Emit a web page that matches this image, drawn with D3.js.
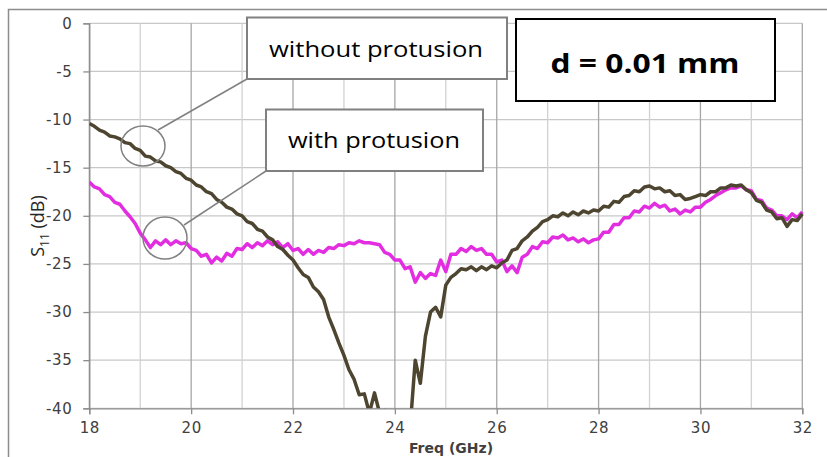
<!DOCTYPE html>
<html><head><meta charset="utf-8">
<script src="https://cdn.jsdelivr.net/npm/d3@7"></script>
<style>
html,body{margin:0;padding:0;background:#fff;}
svg{display:block;}
</style></head>
<body>
<svg id="chart" width="827" height="457"></svg>
<script>
const freq = [18.0,18.1,18.2,18.3,18.4,18.5,18.6,18.7,18.8,18.9,19.0,19.1,19.2,19.3,19.4,19.5,19.6,19.7,19.8,19.9,
20.0,20.1,20.2,20.3,20.4,20.5,20.6,20.7,20.8,20.9,21.0,21.1,21.2,21.3,21.4,21.5,21.6,21.7,21.8,21.9,
22.0,22.1,22.2,22.3,22.4,22.5,22.6,22.7,22.8,22.9,23.0,23.1,23.2,23.3,23.4,23.5,23.6,23.7,23.8,23.9,
24.0,24.1,24.2,24.3,24.4,24.5,24.6,24.7,24.8,24.9,25.0,25.1,25.2,25.3,25.4,25.5,25.6,25.7,25.8,25.9,
26.0,26.1,26.2,26.3,26.4,26.5,26.6,26.7,26.8,26.9,27.0,27.1,27.2,27.3,27.4,27.5,27.6,27.7,27.8,27.9,
28.0,28.1,28.2,28.3,28.4,28.5,28.6,28.7,28.8,28.9,29.0,29.1,29.2,29.3,29.4,29.5,29.6,29.7,29.8,29.9,
30.0,30.1,30.2,30.3,30.4,30.5,30.6,30.7,30.8,30.9,31.0,31.1,31.2,31.3,31.4,31.5,31.6,31.7,31.8,31.9,32.0];

const withoutProtusion = [-10.4,-10.7,-11.1,-11.3,-11.7,-11.8,-12.0,-12.4,-12.5,-13.0,-13.2,-13.8,-13.9,-14.3,-14.4,-14.8,-15.0,-15.4,-15.6,-16.1,
-16.3,-16.8,-17.0,-17.5,-17.7,-18.3,-18.6,-19.1,-19.3,-19.8,-20.0,-20.6,-20.8,-21.4,-21.6,-22.2,-22.5,-23.2,-23.5,-24.1,
-24.6,-25.4,-26.1,-26.4,-27.4,-27.9,-28.7,-30.5,-31.8,-33.2,-34.5,-36.0,-37.0,-38.6,-38.5,-40.5,-38.4,-40.5,-40.2,-42.0,
-43.0,-44.0,-44.0,-42.0,-35.0,-37.4,-32.5,-30.0,-29.5,-30.5,-27.2,-26.4,-26.0,-25.5,-25.6,-25.3,-25.7,-25.3,-25.6,-25.2,
-25.4,-24.9,-24.6,-23.6,-23.4,-22.6,-22.2,-21.6,-21.2,-20.6,-20.4,-20.0,-20.1,-19.7,-20.0,-19.6,-19.9,-19.5,-19.7,-19.4,
-19.5,-19.0,-19.1,-18.5,-18.6,-18.0,-17.9,-17.4,-17.5,-17.0,-16.9,-17.2,-17.1,-17.5,-17.4,-17.9,-17.8,-18.3,-18.2,-18.0,
-17.8,-17.9,-17.5,-17.5,-17.1,-17.1,-16.8,-16.9,-16.8,-17.3,-17.6,-18.4,-18.6,-19.4,-19.6,-20.3,-20.2,-21.1,-20.4,-20.5,-19.8];

const withProtusion = [-16.5,-17.0,-17.2,-17.8,-18.0,-18.6,-18.8,-19.5,-20.1,-20.8,-21.8,-22.5,-23.3,-22.6,-23.0,-22.5,-23.0,-22.6,-22.9,-22.8,
-23.4,-23.6,-24.2,-24.0,-24.9,-24.3,-24.7,-23.9,-24.2,-23.4,-23.5,-22.9,-23.3,-22.8,-23.1,-22.6,-23.0,-22.7,-23.3,-22.9,
-23.6,-23.4,-24.0,-23.5,-24.0,-23.6,-23.8,-23.3,-23.4,-23.0,-23.1,-22.8,-22.9,-22.6,-22.8,-22.8,-22.9,-23.0,-23.8,-24.0,
-24.6,-24.6,-25.5,-25.3,-26.9,-25.9,-26.5,-26.0,-26.2,-24.6,-25.8,-24.0,-24.0,-23.4,-23.7,-23.2,-23.6,-23.4,-24.0,-24.0,
-24.8,-24.6,-25.8,-25.2,-25.9,-24.3,-24.0,-23.2,-23.4,-22.7,-22.8,-22.2,-22.3,-22.0,-22.5,-22.3,-22.7,-22.4,-22.8,-22.5,
-22.4,-21.7,-21.7,-20.9,-20.9,-20.2,-20.2,-19.5,-19.6,-19.0,-19.2,-18.7,-19.1,-18.9,-19.5,-19.3,-19.8,-19.4,-19.6,-19.1,
-19.1,-18.6,-18.3,-17.9,-17.6,-17.3,-17.1,-17.1,-16.9,-17.3,-17.4,-18.3,-18.4,-19.2,-19.4,-20.0,-20.0,-20.4,-19.8,-20.2,-19.6];

const xTicks = [18,20,22,24,26,28,30,32];
const xMinorGrid = [19,21,23,25,27,29,31];
const yTicks = [0,-5,-10,-15,-20,-25,-30,-35,-40];

const svg = d3.select("#chart");
const W = 827, H = 457;
const x = d3.scaleLinear().domain([18,32]).range([89.3,802.3]);
const y = d3.scaleLinear().domain([0,-40]).range([23.3,408.3]);

// outer chart border
svg.append("rect").attr("x",8.5).attr("y",9.5).attr("width",W+10).attr("height",H+10)
  .attr("fill","#fff").attr("stroke","#8c8c8c").attr("stroke-width",1.5);

// grid
const g = svg.append("g");
g.selectAll(".hg").data(yTicks).join("line")
  .attr("x1",x(18)).attr("x2",x(32)).attr("y1",d=>y(d)).attr("y2",d=>y(d))
  .attr("stroke","#c8c8c8").attr("stroke-width",1.3);
g.selectAll(".vmin").data(xMinorGrid).join("line")
  .attr("x1",d=>x(d)).attr("x2",d=>x(d)).attr("y1",y(0)).attr("y2",y(-40))
  .attr("stroke","#d2d2d2").attr("stroke-width",1.3);
g.selectAll(".vmaj").data(xTicks).join("line")
  .attr("x1",d=>x(d)).attr("x2",d=>x(d)).attr("y1",y(0)).attr("y2",y(-40))
  .attr("stroke","#a6a6a6").attr("stroke-width",1.3);

// axes
const xAxis = d3.axisBottom(x).tickValues(xTicks).tickSize(6).tickPadding(5).tickFormat(d3.format("d"));
const yAxis = d3.axisLeft(y).tickValues(yTicks).tickSize(6).tickPadding(11).tickFormat(d=>d===0?"0":String(d));
const gx = svg.append("g").attr("transform",`translate(0,${y(-40)})`).call(xAxis);
const gy = svg.append("g").attr("transform",`translate(${x(18)},0)`).call(yAxis);
[gx,gy].forEach(a=>{
  a.select(".domain").attr("stroke","#8c8c8c").attr("stroke-width",1.3);
  a.selectAll(".tick line").attr("stroke","#8c8c8c").attr("stroke-width",1.3);
  a.selectAll(".tick text").attr("font-family","DejaVu Sans").attr("font-size",15)
    .attr("fill","#404040").attr("letter-spacing","0.6px");
});
gx.selectAll(".tick text").attr("dy","0.9em");

// axis titles
svg.append("text").attr("x",451).attr("y",453).attr("text-anchor","middle")
  .attr("font-family","DejaVu Sans").attr("font-weight","bold").attr("font-size",14)
  .attr("fill","#404040").text("Freq (GHz)");
const yl = svg.append("text").attr("transform","translate(44,226) rotate(-90)")
  .attr("text-anchor","middle").attr("font-family","Open Sans").attr("font-size",18).attr("fill","#262626");
yl.append("tspan").text("S");
yl.append("tspan").attr("font-size",12).attr("dy",5).text("11");
yl.append("tspan").attr("dy",-5).text(" (dB)");

// clip
svg.append("clipPath").attr("id","clip").append("rect")
  .attr("x",x(18)).attr("y",y(0)-5).attr("width",x(32)-x(18)+3).attr("height",y(-40)-y(0)+5);

const line = d3.line().x((d,i)=>x(freq[i])).y(d=>y(d));
const lines = svg.append("g").attr("clip-path","url(#clip)");
lines.append("path").datum(withProtusion).attr("d",line).attr("fill","none")
  .attr("stroke","#e22ee0").attr("stroke-width",3.5).attr("stroke-linejoin","round");
lines.append("path").datum(withoutProtusion).attr("d",line).attr("fill","none")
  .attr("stroke","#4d4530").attr("stroke-width",3.5).attr("stroke-linejoin","round");

// annotations
const ann = svg.append("g");
ann.append("line").attr("x1",247).attr("y1",79).attr("x2",158).attr("y2",130).attr("stroke","#808080").attr("stroke-width",1.5);
ann.append("ellipse").attr("cx",143).attr("cy",146).attr("rx",22).attr("ry",20).attr("fill","none").attr("stroke","#808080").attr("stroke-width",1.5);
ann.append("line").attr("x1",266).attr("y1",171).attr("x2",184).attr("y2",225).attr("stroke","#808080").attr("stroke-width",1.5);
ann.append("ellipse").attr("cx",165).attr("cy",238).attr("rx",22).attr("ry",21).attr("fill","none").attr("stroke","#808080").attr("stroke-width",1.5);

ann.append("rect").attr("x",247).attr("y",17.5).attr("width",260).attr("height",61.5)
  .attr("fill","#fff").attr("stroke","#808080").attr("stroke-width",2);
ann.append("text").attr("x",376).attr("y",57).attr("text-anchor","middle")
  .attr("font-family","Open Sans").attr("font-size",22).attr("fill","#000")
  .attr("textLength",214).attr("lengthAdjust","spacingAndGlyphs").text("without protusion");

ann.append("rect").attr("x",266).attr("y",109.5).attr("width",217).attr("height",61.5)
  .attr("fill","#fff").attr("stroke","#808080").attr("stroke-width",2);
ann.append("text").attr("x",374).attr("y",148).attr("text-anchor","middle")
  .attr("font-family","Open Sans").attr("font-size",22).attr("fill","#000")
  .attr("textLength",172).attr("lengthAdjust","spacingAndGlyphs").text("with protusion");

ann.append("rect").attr("x",516).attr("y",19).attr("width",259).attr("height",82)
  .attr("fill","#fff").attr("stroke","#000").attr("stroke-width",2);
ann.append("text").attr("x",645).attr("y",73).attr("text-anchor","middle")
  .attr("font-family","Open Sans").attr("font-weight","bold").attr("font-size",27).attr("fill","#000")
  .attr("textLength",189).attr("lengthAdjust","spacingAndGlyphs").text("d = 0.01 mm");
</script>
</body></html>
